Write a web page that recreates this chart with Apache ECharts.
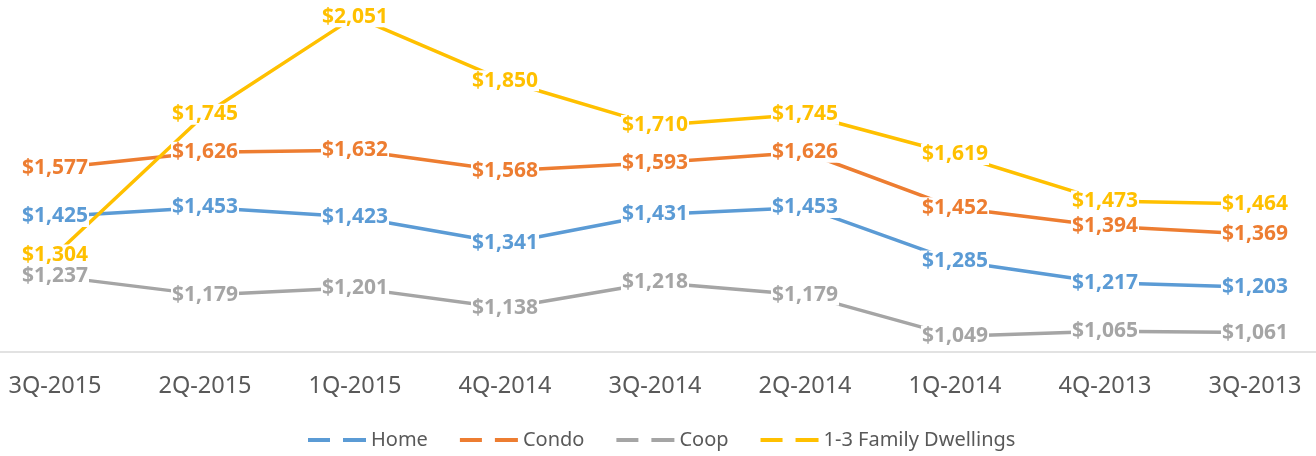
<!DOCTYPE html>
<html>
<head>
<meta charset="utf-8">
<script src="https://cdn.jsdelivr.net/npm/echarts@6/dist/echarts.min.js"></script>
<style>
  html, body { margin: 0; padding: 0; background: #fff; overflow: hidden; }
  /* plot is a bit wider than the window so the category bands line up */
  #chart { width: 1350px; height: 456px; margin-left: -20px; }
</style>
</head>
<body>
<div id="chart"></div>
<script>
const quarters = ["3Q-2015", "2Q-2015", "1Q-2015", "4Q-2014", "3Q-2014", "2Q-2014", "1Q-2014", "4Q-2013", "3Q-2013"];
const home = [1425, 1453, 1423, 1341, 1431, 1453, 1285, 1217, 1203];
const condo = [1577, 1626, 1632, 1568, 1593, 1626, 1452, 1394, 1369];
const coop = [1237, 1179, 1201, 1138, 1218, 1179, 1049, 1065, 1061];
const family = [1304, 1745, 2051, 1850, 1710, 1745, 1619, 1473, 1464];

const chart = echarts.init(document.getElementById("chart"));

function makeSeries(name, data, color) {
  return {
    name: name,
    type: "line",
    data: data,
    showSymbol: true,
    symbol: "circle",
    symbolSize: 1,
    color: color,
    itemStyle: { color: color },
    lineStyle: { color: color, width: 3.5 },
    label: {
      show: true,
      position: "inside",
      formatter: (p) => "$" + p.value.toLocaleString("en-US"),
      color: color,
      fontFamily: "Noto Sans",
      fontWeight: "bold",
      fontSize: 21,
      backgroundColor: "#fff",
      padding: [0, 1]
    },
    emphasis: { disabled: true }
  };
}

const option = {
  animation: false,
  grid: { left: 0, right: 0, top: 1, bottom: 104 },
  xAxis: {
    type: "category",
    data: quarters,
    boundaryGap: true,
    axisLine: { lineStyle: { color: "#d9d9d9", width: 1.5 } },
    axisTick: { show: false },
    axisLabel: { color: "#595959", fontFamily: "Noto Sans", fontSize: 23.5, margin: 22 }
  },
  yAxis: {
    type: "value",
    min: 1000,
    max: 2100,
    show: false
  },
  legend: {
    bottom: 1,
    left: 323,
    itemGap: 32,
    itemWidth: 58,
    itemHeight: 4,
    icon: "path://M0,0h22v4h-22z M35,0h23v4h-23z",
    textStyle: { color: "#595959", fontFamily: "Noto Sans", fontSize: 20 },
    data: ["Home", "Condo", "Coop", "1-3 Family Dwellings"]
  },
  series: [
    makeSeries("Home", home, "#5B9BD5"),
    makeSeries("Condo", condo, "#ED7D31"),
    makeSeries("Coop", coop, "#A5A5A5"),
    makeSeries("1-3 Family Dwellings", family, "#FFC000")
  ]
};

chart.setOption(option);
</script>
</body>
</html>
